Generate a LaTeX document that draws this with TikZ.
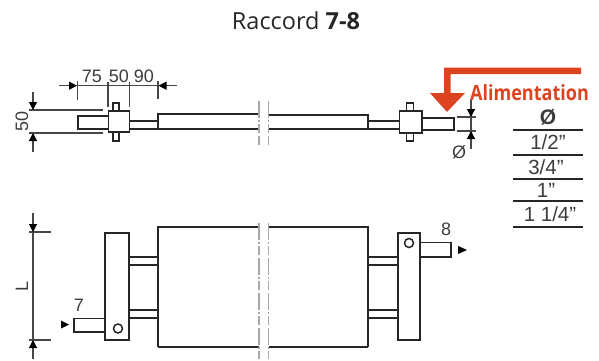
\documentclass[tikz,border=0pt]{standalone}
\usepackage{fontspec}
\setmainfont{Liberation Sans}
\newfontfamily\titlefont{Open Sans}
\newfontfamily\alimfont[FakeStretch=0.86]{Open Sans}
\usetikzlibrary{arrows.meta}
\definecolor{ink}{HTML}{262626}
\definecolor{redor}{HTML}{DC4320}
\definecolor{breakgray}{HTML}{A8A8A8}
\tikzset{
  part/.style={draw=ink,line width=1.5pt,fill=white},
  thick part/.style={draw=ink,line width=1.9pt},
  rodline/.style={draw=ink,line width=1.4pt},
  dimline/.style={draw=ink!85,line width=1.1pt},
  dimtip/.style={draw=ink!85,line width=1.1pt,-{Triangle[length=8pt,width=8pt,fill=black,color=black]}},
  breakline/.style={draw=breakgray,line width=1.4pt,dash pattern=on 17pt off 2pt on 2pt off 2pt on 9pt off 3pt},
  label/.style={inner sep=0pt,text=ink!90,font=\fontsize{18}{18}\selectfont},
  tablelabel/.style={inner sep=0pt,text=ink!90,font=\fontsize{20.5}{20.5}\selectfont},
  tablerule/.style={draw=ink,line width=1.3pt},
  flowtip/.style={fill=black,draw=none},
}
\begin{document}
\begin{tikzpicture}[x=1pt,y=-1pt]
\useasboundingbox (0,0) rectangle (599,361);
\node[inner sep=0pt,font=\fontsize{23.5}{24}\selectfont\titlefont,text=ink] (title) at (296,21) {Raccord \textbf{7-8}};

% --- top view: body and rods
\draw[thick part] (259,114) -- (158,114) -- (158,129) -- (259,129);
\draw[thick part] (269,115) -- (368,115) -- (368,129) -- (269,129);
\draw[rodline] (130,121) -- (158,121) (130,129) -- (158,129);
\draw[rodline] (368,121) -- (399,121) (368,129) -- (399,129);
% left fitting
\draw[part] (113,103) rectangle (119,141);
\draw[part] (78,116) rectangle (108.5,129);
\draw[part,line width=1.8pt] (108.5,111) rectangle (129.5,132);
% right fitting
\draw[part] (406.5,103) rectangle (413.5,141);
\draw[part] (422,118) rectangle (454,130);
\draw[part,line width=1.8pt] (399.5,111) rectangle (422,133);
% break lines, top
\draw[breakline] (259,101) -- (259,145);
\draw[breakline] (268.5,101) -- (268.5,145);

% --- top dimensions
\draw[dimline] (77.5,81) -- (77.5,100);
\draw[dimline] (108,82) -- (108,107);
\draw[dimline] (129.5,82) -- (129.5,107);
\draw[dimline] (158,81) -- (158,99);
\draw[dimline] (77.5,85.7) -- (158,85.7);
\draw[dimtip] (59,85.7) -- (77,85.7);
\draw[dimtip] (177,85.7) -- (158.5,85.7);
\node[label] (d75) at (92,76) {75};
\node[label] (d50) at (119,76) {50};
\node[label] (d90) at (144,76) {90};
\draw[dimline] (29,110) -- (103,110);
\draw[dimline] (29,133) -- (103,133);
\draw[dimtip] (33,92) -- (33,110);
\draw[dimtip] (33,152) -- (33,133);
\node[label,rotate=90] (h50) at (22,121) {50};
\draw[dimline] (457,117) -- (476,117);
\draw[dimline] (457,131) -- (476,131);
\draw[dimline] (471,117) -- (471,131);
\draw[dimtip] (471,100) -- (471,117);
\draw[dimtip] (471,149) -- (471,131);
\node[label] (phi) at (459,152) {Ø};

% --- red supply arrow
\draw[draw=none,fill=redor] (581,67.5) -- (444,67.5) -- (444,93) -- (430,93) -- (447,112) -- (465,93) -- (450.5,93) -- (450.5,74) -- (581,74) -- cycle;
\node[inner sep=0pt,text=redor,font=\fontsize{21}{21}\selectfont\alimfont\bfseries] (alim) at (529.5,93) {Alimentation};

% --- table
\node[tablelabel,font=\fontsize{21}{21}\selectfont\bfseries] (t0) at (548,117) {Ø};
\node[tablelabel] (t1) at (548,142) {1/2”};
\node[tablelabel] (t2) at (546,167) {3/4”};
\node[tablelabel] (t3) at (546,190) {1”};
\node[tablelabel] (t4) at (550,214) {1 1/4”};
\draw[tablerule] (513,130) -- (583,130);
\draw[tablerule] (513,155) -- (583,155);
\draw[tablerule] (513,179) -- (583,179);
\draw[tablerule] (513,201) -- (583,201);
\draw[tablerule] (513,227) -- (583,227);

% --- plan view
\draw[thick part] (259,227) -- (158,227) -- (158,347);
\draw[thick part,line width=2.4pt] (158,347) -- (259,347);
\draw[thick part] (269,227) -- (368,227) -- (368,347);
\draw[thick part,line width=2.4pt] (269,347) -- (368,347);
\foreach \ya in {257,265,310,318}{
  \draw[rodline] (129,\ya) -- (158,\ya);
  \draw[rodline] (368,\ya) -- (398,\ya);
}
\draw[part,line width=1.3pt] (74,318.5) rectangle (105,332);
\draw[part,line width=1.8pt] (105,233) rectangle (129,340);
\draw[part,line width=1.5pt] (118,328.5) circle (4.5);
\draw[part,line width=1.3pt] (420,242.5) rectangle (451,257);
\draw[part,line width=1.8pt] (398,233) rectangle (420,340);
\draw[part,line width=1.5pt] (409,243) circle (4.5);
\draw[breakline] (259,223) -- (259,359);
\draw[breakline] (268.5,223) -- (268.5,359);

% L dimension
\draw[dimline] (29,232) -- (51,232);
\draw[dimline] (29,340) -- (51,340);
\draw[dimline] (33,232) -- (33,340);
\draw[dimtip] (33,213) -- (33,232);
\draw[dimtip] (33,359) -- (33,340);
\node[label,rotate=90] (Ldim) at (22,286) {L};

% port labels and flow marks
\node[label] (p7) at (79,305) {7};
\node[label] (p8) at (446,229) {8};
\fill[flowtip] (61,320.5) -- (69,324.5) -- (61,328.5) -- cycle;
\fill[flowtip] (458,246) -- (467,250) -- (458,254) -- cycle;
\end{tikzpicture}
\end{document}
